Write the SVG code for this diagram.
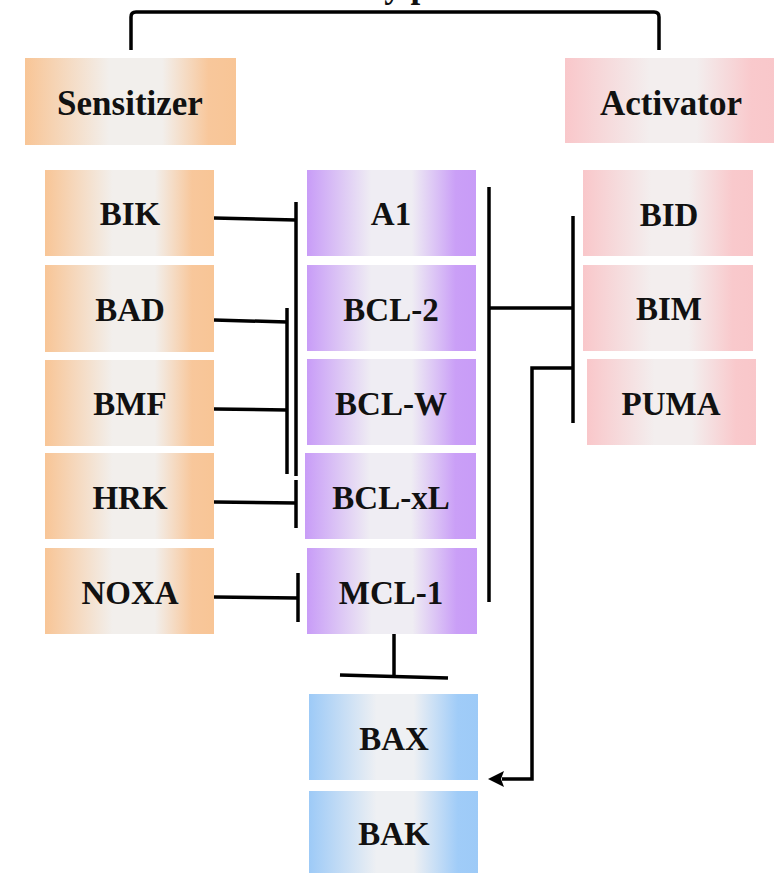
<svg xmlns="http://www.w3.org/2000/svg" width="774" height="873" viewBox="0 0 774 873">
<style>
.t{font-family:"Liberation Serif","Times New Roman",serif;font-weight:bold;font-size:33px;fill:#111;text-anchor:middle}
.h{font-size:35px}
.c{fill:none;stroke:#000;stroke-width:3.5}
</style>
<defs>
<linearGradient id="go" x1="0" x2="1" y1="0" y2="0"><stop offset="0" stop-color="#f8c596"/><stop offset="0.4" stop-color="#f2efec"/><stop offset="0.65" stop-color="#f2efec"/><stop offset="0.87" stop-color="#f8c79b"/><stop offset="1" stop-color="#f8c596"/></linearGradient>
<linearGradient id="gp" x1="0" x2="1" y1="0" y2="0"><stop offset="0" stop-color="#c89cf7"/><stop offset="0.38" stop-color="#efedf3"/><stop offset="0.62" stop-color="#efedf3"/><stop offset="0.88" stop-color="#ca9ff7"/><stop offset="1" stop-color="#c89cf7"/></linearGradient>
<linearGradient id="gk" x1="0" x2="1" y1="0" y2="0"><stop offset="0" stop-color="#f9c7ca"/><stop offset="0.4" stop-color="#f3eeee"/><stop offset="0.62" stop-color="#f3eeee"/><stop offset="0.88" stop-color="#f9c9cc"/><stop offset="1" stop-color="#f9c7ca"/></linearGradient>
<linearGradient id="gb" x1="0" x2="1" y1="0" y2="0"><stop offset="0" stop-color="#9dcaf7"/><stop offset="0.4" stop-color="#eef0f3"/><stop offset="0.62" stop-color="#eef0f3"/><stop offset="0.88" stop-color="#a0ccf8"/><stop offset="1" stop-color="#9dcaf7"/></linearGradient>
<marker id="arr" markerWidth="16" markerHeight="16" refX="2" refY="8" orient="auto" markerUnits="userSpaceOnUse"><path d="M0,0 L16,8 L0,16 L3,8 z" fill="#000"/></marker>
</defs>

<g id="title"><text class="t h" x="395" y="-3.5">BH3-only proteins</text></g>

<g id="connectors">
<path class="c" d="M131,50 V17 Q131,12 136,12 H654 Q659,12 659,17 V50" stroke-width="4"/>
<path class="c" d="M214,218 L296,220"/>
<path class="c" d="M296,202 V476"/>
<path class="c" d="M214,320 L287,322"/>
<path class="c" d="M214,409 L287,410"/>
<path class="c" d="M287,308 V474"/>
<path class="c" d="M214,502 L296,503"/>
<path class="c" d="M296,480 V528"/>
<path class="c" d="M214,597 L298,598"/>
<path class="c" d="M298,573 V622"/>
<path class="c" d="M489,187 V602"/>
<path class="c" d="M489,308 H573"/>
<path class="c" d="M573,216 V423"/>
<path class="c" d="M573,368 H532 V779 H502" marker-end="url(#arr)"/>
<path class="c" d="M394,634 V676"/>
<path class="c" d="M340,675 L448,678"/>
</g>

<g id="sensitizer"><rect x="25" y="58" width="211" height="87" fill="url(#go)"/><text class="t h" x="130" y="115">Sensitizer</text></g>
<g id="activator"><rect x="565" y="58" width="212" height="85" fill="url(#gk)"/><text class="t h" x="671" y="115">Activator</text></g>

<g id="BIK"><rect x="45" y="170" width="169" height="86" fill="url(#go)"/><text class="t" x="130" y="225">BIK</text></g>
<g id="BAD"><rect x="45" y="265" width="169" height="87" fill="url(#go)"/><text class="t" x="130" y="321">BAD</text></g>
<g id="BMF"><rect x="45" y="360" width="169" height="86" fill="url(#go)"/><text class="t" x="130" y="415">BMF</text></g>
<g id="HRK"><rect x="45" y="453" width="169" height="86" fill="url(#go)"/><text class="t" x="130" y="509">HRK</text></g>
<g id="NOXA"><rect x="45" y="548" width="169" height="86" fill="url(#go)"/><text class="t" x="130" y="604">NOXA</text></g>

<g id="A1"><rect x="307" y="170" width="169" height="86" fill="url(#gp)"/><text class="t" x="391" y="225">A1</text></g>
<g id="BCL-2"><rect x="307" y="265" width="169" height="86" fill="url(#gp)"/><text class="t" x="391" y="321">BCL-2</text></g>
<g id="BCL-W"><rect x="307" y="359" width="169" height="86" fill="url(#gp)"/><text class="t" x="391" y="415">BCL-W</text></g>
<g id="BCL-xL"><rect x="305" y="453" width="171" height="86" fill="url(#gp)"/><text class="t" x="391" y="509">BCL-xL</text></g>
<g id="MCL-1"><rect x="307" y="548" width="170" height="86" fill="url(#gp)"/><text class="t" x="391" y="604">MCL-1</text></g>

<g id="BID"><rect x="583" y="170" width="170" height="86" fill="url(#gk)"/><text class="t" x="669" y="226">BID</text></g>
<g id="BIM"><rect x="583" y="265" width="170" height="86" fill="url(#gk)"/><text class="t" x="669" y="320">BIM</text></g>
<g id="PUMA"><rect x="587" y="359" width="169" height="86" fill="url(#gk)"/><text class="t" x="671" y="415">PUMA</text></g>

<g id="BAX"><rect x="309" y="694" width="169" height="86" fill="url(#gb)"/><text class="t" x="394" y="750">BAX</text></g>
<g id="BAK"><rect x="309" y="791" width="169" height="90" fill="url(#gb)"/><text class="t" x="394" y="845">BAK</text></g>
</svg>
